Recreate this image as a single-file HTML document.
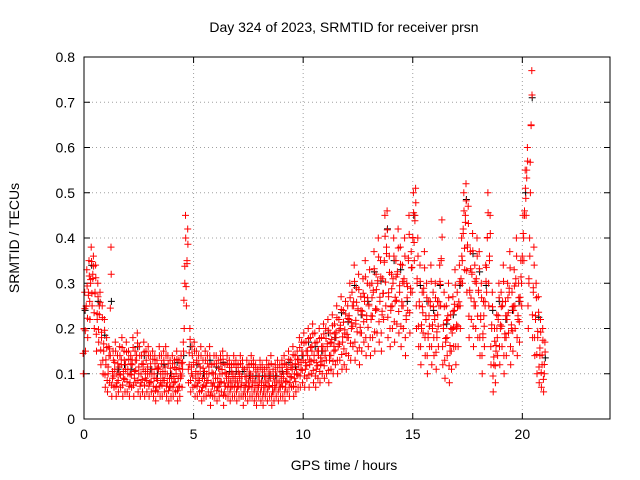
<!DOCTYPE html>
<html><head><meta charset="utf-8"><style>
body{margin:0;background:#fff;}
svg{display:block;font-family:"Liberation Sans",sans-serif;}
</style></head><body>
<svg id="chart" width="640" height="480" viewBox="0 0 640 480" xmlns="http://www.w3.org/2000/svg">
<rect width="640" height="480" fill="#fff"/>
<text x="344" y="32" font-size="14" text-anchor="middle">Day 324 of 2023, SRMTID for receiver prsn</text>
<text x="344" y="470" font-size="14" text-anchor="middle">GPS time / hours</text>
<text x="19" y="238" font-size="14" text-anchor="middle" transform="rotate(-90 19 238)">SRMTID / TECUs</text>
<g id="grid"></g>
<g id="ticks"></g>
<g id="marks"></g>
<rect x="84" y="57" width="526" height="362" fill="none" stroke="#000" stroke-width="1"/>
</svg>
<script>
const xTicks=[0,5,10,15,20];
const yTicks=[0,0.1,0.2,0.3,0.4,0.5,0.6,0.7,0.8];
const yTickLabels=["0","0.1","0.2","0.3","0.4","0.5","0.6","0.7","0.8"];
const tStart=0, tStep=0.1;
const srmtidMid=[.20,.25,.28,.30,.32,.28,.22,.25,.18,.15,
.12,.10,.14,.09,.11,.08,.10,.12,.09,.11,
.10,.08,.12,.09,.13,.10,.08,.11,.09,.10,
.08,.10,.09,.07,.11,.08,.09,.10,.08,.07,
.09,.08,.10,.07,.09,.11,.30,.35,.12,.10,
.12,.09,.08,.10,.07,.09,.08,.10,.06,.08,
.09,.07,.08,.10,.06,.09,.08,.07,.09,.08,
.07,.09,.08,.06,.08,.07,.09,.08,.07,.06,
.08,.07,.06,.08,.07,.09,.06,.07,.08,.07,
.08,.09,.07,.10,.08,.11,.09,.10,.12,.11,
.13,.11,.14,.12,.15,.13,.11,.14,.12,.15,
.14,.16,.13,.17,.15,.18,.16,.20,.17,.19,
.18,.22,.20,.25,.21,.24,.19,.23,.26,.22,
.25,.22,.28,.24,.30,.26,.23,.35,.38,.27,
.24,.30,.26,.32,.28,.25,.30,.22,.35,.28,
.40,.45,.30,.25,.20,.28,.22,.18,.25,.20,
.22,.18,.25,.35,.20,.17,.22,.15,.19,.24,
.20,.25,.30,.42,.45,.38,.28,.32,.25,.30,
.28,.22,.18,.25,.40,.35,.20,.12,.15,.22,
.20,.25,.18,.22,.28,.20,.24,.30,.22,.26,
.35,.45,.55,.30,.65,.28,.22,.18,.14,.12,.10];
const srmtidHigh=[.28,.33,.35,.38,.36,.34,.30,.28,.25,.22,
.18,.16,.38,.15,.17,.14,.16,.18,.15,.17,
.15,.14,.18,.15,.19,.16,.14,.17,.15,.16,
.14,.15,.14,.13,.16,.14,.15,.16,.14,.13,
.14,.13,.15,.13,.14,.17,.45,.42,.20,.16,
.17,.15,.14,.16,.13,.15,.14,.16,.12,.14,
.14,.13,.14,.15,.12,.14,.13,.12,.14,.13,
.12,.14,.13,.11,.13,.12,.14,.13,.12,.11,
.13,.12,.11,.13,.12,.14,.11,.12,.13,.12,
.13,.14,.12,.15,.13,.16,.14,.15,.18,.17,
.19,.17,.20,.18,.21,.19,.17,.20,.18,.21,
.20,.22,.19,.23,.21,.25,.22,.27,.24,.26,
.25,.30,.28,.34,.29,.32,.27,.31,.35,.30,
.33,.30,.37,.32,.40,.35,.31,.45,.46,.36,
.32,.40,.35,.42,.38,.34,.40,.30,.45,.37,
.50,.51,.40,.34,.28,.37,.30,.26,.34,.28,
.30,.26,.34,.44,.28,.25,.30,.23,.27,.33,
.28,.34,.40,.50,.52,.47,.37,.41,.34,.40,
.37,.30,.26,.34,.50,.45,.28,.20,.23,.30,
.28,.34,.26,.30,.37,.28,.33,.40,.30,.35,
.45,.55,.60,.40,.77,.38,.30,.27,.22,.20,.17];
const srmtidLow=[.10,.15,.18,.22,.25,.20,.15,.17,.12,.10,
.07,.06,.08,.05,.07,.05,.06,.07,.05,.06,
.06,.05,.07,.05,.08,.06,.05,.06,.05,.06,
.05,.06,.05,.04,.06,.05,.05,.06,.05,.04,
.05,.05,.06,.04,.05,.07,.20,.25,.08,.06,
.07,.05,.05,.06,.04,.05,.05,.06,.03,.05,
.05,.04,.05,.06,.03,.05,.05,.04,.05,.05,
.04,.05,.05,.03,.05,.04,.05,.05,.04,.03,
.05,.04,.03,.05,.04,.05,.03,.04,.05,.04,
.05,.05,.04,.06,.05,.07,.05,.06,.07,.07,
.08,.07,.09,.07,.10,.08,.07,.09,.08,.10,
.09,.10,.08,.11,.10,.12,.10,.13,.11,.12,
.11,.14,.13,.16,.13,.15,.12,.15,.17,.14,
.16,.14,.18,.15,.19,.17,.15,.22,.25,.18,
.16,.20,.17,.21,.19,.16,.20,.14,.24,.19,
.28,.35,.20,.16,.12,.19,.14,.10,.16,.12,
.14,.11,.16,.25,.12,.09,.14,.08,.11,.16,
.12,.16,.20,.30,.33,.28,.18,.22,.16,.20,
.18,.14,.10,.16,.28,.25,.12,.06,.08,.14,
.12,.16,.10,.14,.19,.12,.15,.20,.14,.17,
.25,.35,.45,.20,.50,.18,.14,.10,.08,.07,.06];

const X0=84,X1=610,Y0=419,Y1=57,XMAX=24,YMAX=0.8;
const xs=t=>X0+(t/XMAX)*(X1-X0);
const ys=v=>Y0-(v/YMAX)*(Y0-Y1);
const NS="http://www.w3.org/2000/svg";
const grid=document.getElementById('grid'),ticks=document.getElementById('ticks'),marks=document.getElementById('marks');
function mk(tag,attrs,parent){const e=document.createElementNS(NS,tag);for(const k in attrs)e.setAttribute(k,attrs[k]);parent.appendChild(e);return e;}
yTicks.forEach((v,i)=>{
  const y=ys(v);
  if(i>0&&i<yTicks.length-1){const g=mk('line',{x1:X0,x2:X1,y1:y,y2:y,stroke:'#a0a0a0','stroke-dasharray':'1,3'},grid);
  
  }
  const tl=mk('line',{x1:X0,x2:X0+6,y1:y,y2:y,stroke:'#000'},ticks);
  
  
  const tr=mk('line',{x1:X1-6,x2:X1,y1:y,y2:y,stroke:'#000'},ticks);
  
  
  const t=mk('text',{x:X0-9,y:y+5,'font-size':14,'text-anchor':'end'},ticks);
  t.textContent=yTickLabels[i];
  
  
});
xTicks.forEach(v=>{
  const x=xs(v);
  if(v>0){const g=mk('line',{x1:x,x2:x,y1:Y1,y2:Y0,stroke:'#a0a0a0','stroke-dasharray':'1,3'},grid);
  
  }
  const tb=mk('line',{x1:x,x2:x,y1:Y0-6,y2:Y0,stroke:'#000'},ticks);
  
  
  const tt=mk('line',{x1:x,x2:x,y1:Y1,y2:Y1+6,stroke:'#000'},ticks);
  
  
  const t=mk('text',{x:x,y:Y0+20,'font-size':14,'text-anchor':'middle'},ticks);
  t.textContent=String(v);
  
  
});
let d='',db='';
function plus(x,y){return `M${(x-3.5).toFixed(1)} ${y.toFixed(1)}h7M${x.toFixed(1)} ${(y-3.5).toFixed(1)}v7`;}
const fr=[0.25,0.55,0.8];
srmtidMid.forEach((m,i)=>{
  const t=tStart+i*tStep,hi=srmtidHigh[i],lo=srmtidLow[i];
  d+=plus(xs(t),ys(m))+plus(xs(t+0.03),ys(hi))+plus(xs(t-0.03),ys(lo));
  fr.forEach((f,j)=>{const v=lo+(hi-lo)*f;const tx=t+((j%3)-1)*0.04;d+=plus(xs(tx),ys(v));});
  if(i%3===0) db+=plus(xs(t+0.05),ys((m+hi)/2));
});
const pb=mk('path',{d:db,stroke:'#000','stroke-width':1,fill:'none'},marks);


const pr=mk('path',{d:d,stroke:'#ff0000','stroke-width':1,fill:'none'},marks);


</script>
</body></html>
